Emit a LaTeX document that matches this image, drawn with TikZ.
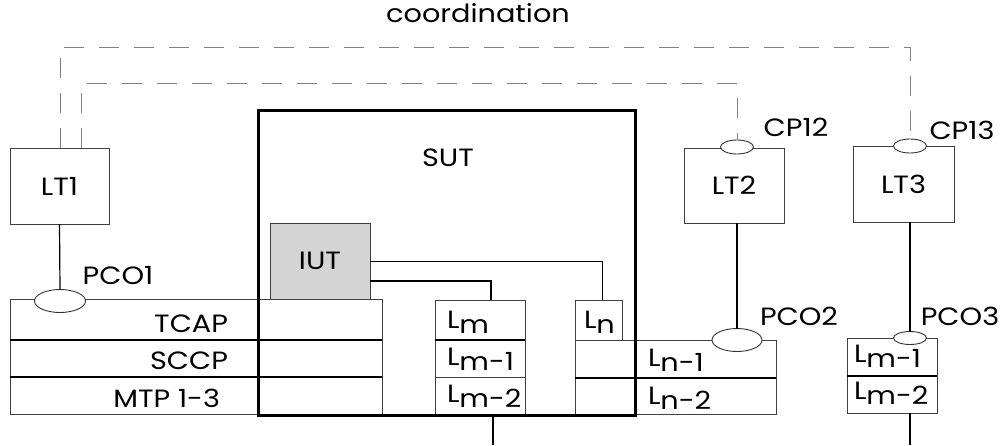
\documentclass[tikz,border=0pt]{standalone}
\usepackage{fontspec}
\setmainfont[FakeStretch=1.15]{Poppins}
\usetikzlibrary{shapes.geometric}
\begin{document}
\begin{tikzpicture}[x=1pt,y=-1pt,
  every node/.style={inner sep=0pt,outer sep=0pt},
  lbl/.style={font=\fontsize{25}{27}\selectfont},
  boxg/.style={draw=black!75,line width=0.8pt,rectangle,anchor=north west},
  div/.style={draw=black,line width=1.3pt},
  conn/.style={draw=black,line width=1.2pt},
  thin/.style={draw=black,line width=0.8pt},
  coord/.style={draw=black!50,line width=1pt,dash pattern=on 20pt off 15pt},
  pco/.style={draw=black!80,line width=0.9pt,ellipse,fill=white}
]
\useasboundingbox (0,0) rectangle (1002,445);
% SUT
\node[draw=black,line width=3pt,rectangle,anchor=north west,minimum width=377pt,minimum height=305pt] (SUT) at (258,110) {};
\node[lbl] (sutl) at (448,158) {SUT};
% LT boxes
\node[boxg,minimum width=99pt,minimum height=76pt] (LT1) at (10,148) {};
\node[lbl] at (LT1.center) {LT1};
\node[boxg,minimum width=100pt,minimum height=75pt] (LT2) at (684,148) {};
\node[lbl] at (LT2.center) {LT2};
\node[boxg,minimum width=101pt,minimum height=76pt] (LT3) at (853,146) {};
\node[lbl] at (LT3.center) {LT3};
% IUT
\node[boxg,fill=black!17,minimum width=100pt,minimum height=76pt] (IUT) at (270,223) {};
\node[lbl] at (IUT.center) {IUT};
% left stack
\node[boxg,minimum width=372pt,minimum height=115pt] (LS) at (10,299) {};
\draw[div] (10,340) -- (382,340);
\draw[div] (10,377) -- (382,377);
\node[lbl,anchor=east] (tcap) at (228,324) {TCAP};
\node[lbl,anchor=east] (sccp) at (228,361) {SCCP};
\node[lbl,anchor=east] (mtp) at (220,398) {MTP 1-3};
% Lm stack in SUT
\node[boxg,minimum width=90pt,minimum height=40pt] (Lm) at (435,300) {};
\node[boxg,minimum width=90pt,minimum height=37pt] (Lm1) at (435,340) {};
\node[boxg,minimum width=90pt,minimum height=37pt] (Lm2) at (435,377) {};
\draw[div] (Lm.south west) -- (Lm.south east);
\node[lbl,anchor=west] at (447,322) {L\raisebox{-5pt}{m}};
\node[lbl,anchor=west] at (447,359) {L\raisebox{-5pt}{m-1}};
\node[lbl,anchor=west] at (447,396) {L\raisebox{-5pt}{m-2}};
% Ln
\node[boxg,minimum width=47pt,minimum height=40pt] (Ln) at (575,300) {};
\node[lbl,anchor=west] at (584,322) {L\raisebox{-5pt}{n}};
\node[boxg,minimum width=201pt,minimum height=38pt] (Ln1) at (575,340) {};
\node[boxg,minimum width=201pt,minimum height=36pt] (Ln2) at (575,378) {};
\draw[div] (Ln2.north west) -- (Ln2.north east);
\node[lbl,anchor=west] at (648,360) {L\raisebox{-5pt}{n-1}};
\node[lbl,anchor=west] at (648,398) {L\raisebox{-5pt}{n-2}};
% right Lm stack
\node[boxg,minimum width=90pt,minimum height=38pt] (RLm1) at (847,338) {};
\node[boxg,minimum width=90pt,minimum height=37pt] (RLm2) at (847,376) {};
\draw[div] (RLm2.north west) -- (RLm2.north east);
\node[lbl,anchor=west] at (854,356) {L\raisebox{-5pt}{m-1}};
\node[lbl,anchor=west] at (854,393) {L\raisebox{-5pt}{m-2}};
% redraw SUT border on top
\draw[draw=black,line width=3pt] (SUT.north west) rectangle (SUT.south east);
% ellipses
\node[pco,minimum width=51pt,minimum height=23pt] (PCO1) at (60,301) {};
\node[pco,minimum width=33pt,minimum height=14pt] (CP12) at (737,147) {};
\node[pco,minimum width=33pt,minimum height=14pt] (CP13) at (910,146) {};
\node[pco,minimum width=50pt,minimum height=23pt] (PCO2) at (737,340) {};
\node[pco,minimum width=33pt,minimum height=13pt] (PCO3) at (910,338) {};
\node[lbl] (lpco1) at (118,276) {PCO1};
\node[lbl] (lcp12) at (796,127) {CP12};
\node[lbl] (lcp13) at (962,130) {CP13};
\node[lbl] (lpco2) at (799,316) {PCO2};
\node[lbl] (lpco3) at (960,316) {PCO3};
\node[lbl] (coordl) at (478,13) {coordination};
% connectors
\draw[conn] (LT1.south) -- (PCO1.north);
\draw[conn] (LT2.south -| PCO2) -- (PCO2.north);
\draw[conn] (LT3.south -| PCO3) -- (PCO3.north);
\draw[thin] (IUT.east) -| ([xshift=3.5pt]Ln.north);
\draw[conn] ([yshift=-20pt]IUT.east) -| ([xshift=11pt]Lm.north);
\coordinate (bot1) at (493,445);
\coordinate (bot2) at (910,445);
\draw[conn] (Lm2.south -| bot1) -- (bot1);
\draw[conn] (RLm2.south -| bot2) -- (bot2);
% coordination dashed
\coordinate (oc) at (910,47);
\coordinate (ic) at (737,83);
\draw[coord] ([xshift=0.5pt]LT1.north) |- (oc) -- (CP13.north);
\draw[coord] ([xshift=22pt]LT1.north) |- (ic) -- (CP12.north);
\end{tikzpicture}
\end{document}
